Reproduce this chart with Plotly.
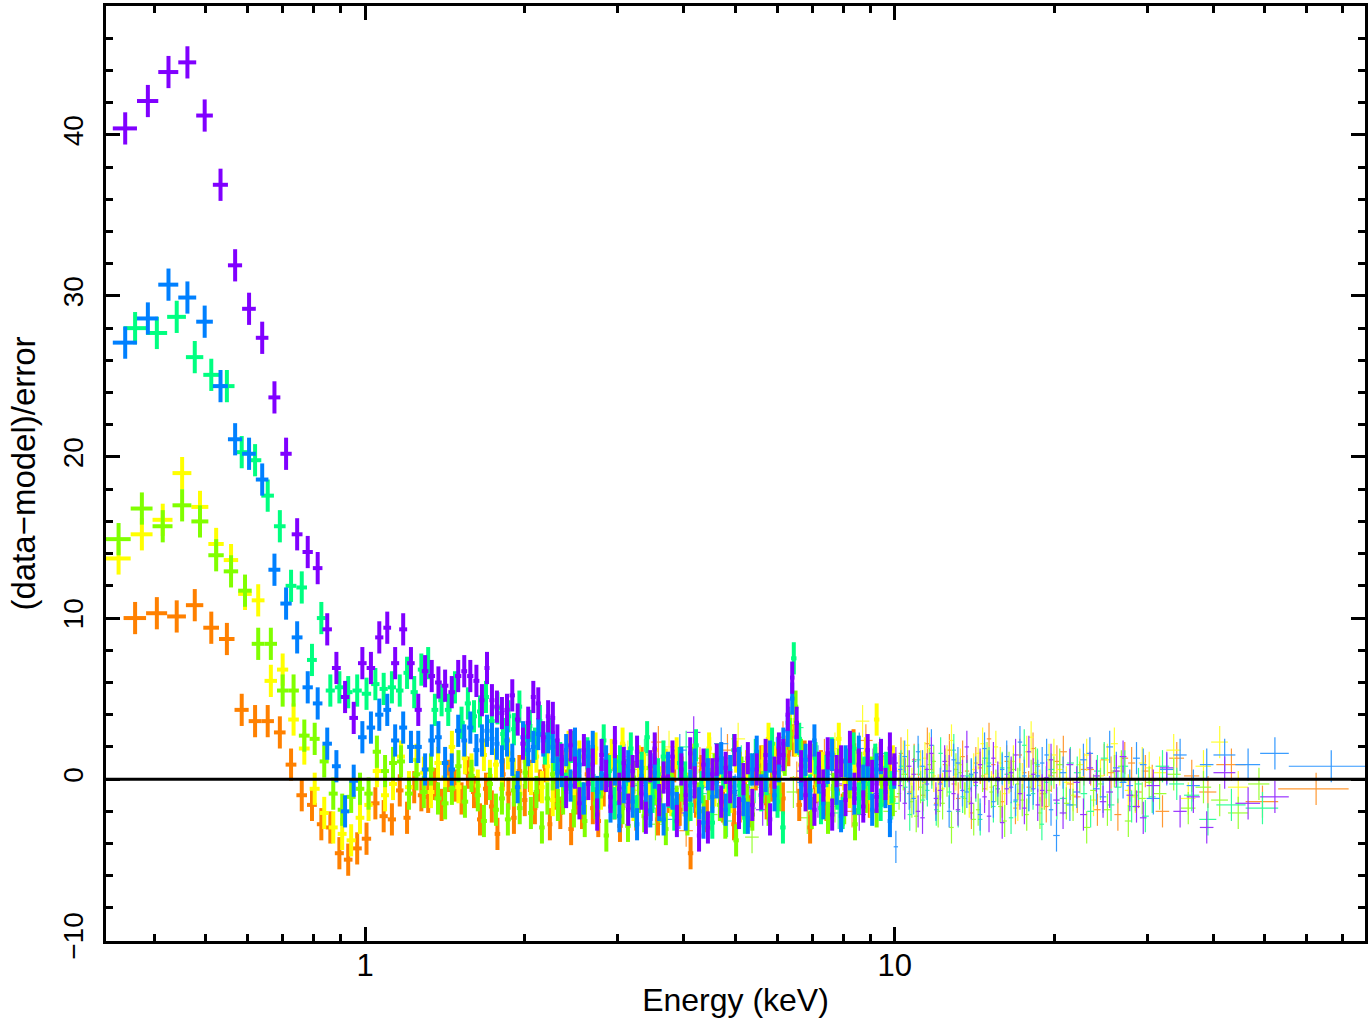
import plotly.graph_objects as go

# ---------------- data ----------------
# Thick (soft X-ray) spectra: bin edges in keV, residuals in sigma
edges_a = [0.334, 0.371, 0.407, 0.444, 0.480, 0.516, 0.551, 0.586, 0.622, 0.657,
           0.692, 0.727, 0.762, 0.797, 0.831, 0.866, 0.900, 0.934, 0.970, 1.007,
           1.045, 1.083, 1.120, 1.160, 1.201, 1.241, 1.280, 1.317, 1.356, 1.396,
           1.437, 1.479, 1.520, 1.559, 1.602, 1.644, 1.681, 1.718, 1.755, 1.794,
           1.833, 1.875, 1.919, 1.965, 2.010, 2.056, 2.101, 2.147, 2.194, 2.240,
           2.286, 2.330, 2.375, 2.420, 2.468, 2.515, 2.565, 2.615, 2.665, 2.718,
           2.770, 2.825, 2.880, 2.935, 2.992, 3.050, 3.110, 3.170, 3.232, 3.295,
           3.358, 3.424, 3.490, 3.558, 3.627, 3.698, 3.770, 3.843, 3.918, 3.994,
           4.072, 4.151, 4.232, 4.314, 4.398, 4.484, 4.571, 4.660, 4.751, 4.843,
           4.938, 5.034, 5.132, 5.232, 5.334, 5.438, 5.544, 5.652, 5.762, 5.874,
           5.989, 6.105, 6.224, 6.345, 6.469, 6.595, 6.724, 6.855, 6.988, 7.124,
           7.263, 7.405, 7.549, 7.696, 7.846, 7.999, 8.155, 8.314, 8.476, 8.641,
           8.810, 8.982, 9.157, 9.335, 9.517, 9.703, 9.892, 10.08]
purple = [40.4, 42.1, 43.9, 44.5, 41.2, 36.9, 31.9, 29.2, 27.4, 23.7,
          20.2, 15.2, 14.1, 13.1, 9.3, 6.9, 5.1, 3.8, 7.2, 6.9,
          8.8, 9.4, 7.2, 9.3, 7.2, 4.3, 6.7, 6.4, 6.0, 5.8,
          5.4, 6.4, 6.7, 6.4, 6.1, 4.9, 6.9, 4.9, 4.5, 4.1,
          4.3, 5.2, 3.7, 2.2, 3.5, 5.1, 4.7, 2.6, 3.9, 3.8,
          2.4,
          1.2, -0.8, 2.1, 0.4, -1.5, 1.8, -0.3, 0.9, -2.2, 1.5,
          0.2, -1.1, 2.3, -0.6, 1.0, -1.9, 0.5, 1.7, -0.9, -2.4,
          0.8, 1.9, -1.3, 0.1, -0.7, 1.4, -2.6, 0.6, -1.0, 1.6,
          -0.2, -3.5, 0.9, -3.0, 0.3, 1.2, -1.4, 0.7, -0.5, 1.8,
          -2.1, 0.0, 1.3, -1.6, 0.6, -0.9, 1.5, -2.5, 0.4, 1.9,
          1.5, 4.0, 6.3, 3.5, 0.8, -1.0, 1.4, -1.9, 0.7, -0.4,
          1.6, -2.2, 0.5, 1.1, -1.3, 2.0, -0.6, 0.9, -1.7, 1.8,
          0.2, -1.1, 1.5, -0.3, 1.9, 0.6]
blue = [27.1, 28.6, 30.7, 29.9, 28.4, 24.4, 21.1, 20.2, 18.6, 13.0,
        10.9, 8.8, 5.7, 4.7, 2.2, 0.8, -2.0, -0.1, 2.6, 3.2,
        4.0, 4.3, 2.4, 3.2, 2.0, 2.0, 0.6, 2.4, 2.6, 1.0,
        0.6, 3.0, 2.4, 3.2, 1.8, 2.4, 3.0, 2.5, 2.2, 1.1,
        2.4, 1.2, -0.5, 2.6, 1.8, 2.0, 2.8, 2.4, 2.6, 2.0,
        0.4,
        0.5, 1.8, -0.4, 2.2, 0.9, -1.2, 1.4, 2.0, -0.8, 0.3,
        1.1, -1.7, 0.6, -2.3, -0.5, 0.8, -1.4, -2.8, 0.2, -1.0,
        -2.0, 0.4, -1.6, -2.5, 0.7, -0.9, -1.8, 1.0, -2.2, -0.4,
        0.9, -1.5, -2.7, 0.3, -1.1, -0.2, 1.3, -1.9, 0.5, -0.8,
        1.0, -1.3, -2.4, 0.6, 1.7, -0.7, 0.2, 1.4, -1.0, 0.8,
        2.2, 3.0, 5.0, 2.6, -0.3, 1.2, -0.9, 2.4, 0.1, -1.5,
        0.7, 1.5, -0.6, -2.3, 1.1, 0.3, -1.2, 1.7, -0.1, 0.9,
        -1.9, 0.6, 1.3, -0.8, -2.6, 0.4]

edges_b = [0.350, 0.386, 0.423, 0.459, 0.495, 0.530, 0.567, 0.603, 0.637, 0.673,
           0.708, 0.742, 0.777, 0.811, 0.843, 0.877, 0.912, 0.947, 0.986, 1.027,
           1.065, 1.104, 1.144, 1.182, 1.219, 1.258, 1.297, 1.335, 1.375, 1.415,
           1.457, 1.500, 1.543, 1.585, 1.627, 1.670, 1.714, 1.757, 1.800, 1.843,
           1.888, 1.933, 1.980, 2.026, 2.070, 2.116, 2.162, 2.210, 2.258, 2.310,
           2.365, 2.421, 2.479, 2.538, 2.599, 2.661, 2.724, 2.790, 2.856, 2.924,
           2.994, 3.066, 3.139, 3.214, 3.291, 3.369, 3.450, 3.532, 3.617, 3.703,
           3.791, 3.882, 3.975, 4.070, 4.167, 4.267, 4.369, 4.473, 4.580, 4.689,
           4.801, 4.916, 5.034, 5.154, 5.277, 5.403, 5.533, 5.665, 5.800, 5.939,
           6.081, 6.226, 6.375, 6.527, 6.683, 6.843, 7.006, 7.174, 7.345, 7.521,
           7.700, 7.884, 8.073, 8.265, 8.463, 8.665, 8.872, 9.084, 9.301, 9.523,
           9.750, 9.983]
green = [28.0, 27.7, 28.7, 26.2, 25.1, 24.4, 20.3, 19.8, 17.6, 15.7,
         12.0, 11.9, 7.4, 10.0, 5.5, 5.7, 5.4, 5.5, 5.3, 5.9,
         5.6, 5.7, 5.5, 6.6, 5.4, 6.8, 7.2, 4.3, 4.9, 4.3,
         5.7, 3.5, 4.7, 3.9, 4.2, 5.1, 3.6, 4.4, 2.8, 3.9,
         3.1, 4.5, 2.4, 3.3, 2.2, 3.6, 1.9, 2.8, 1.5,
         1.3, -0.6, 2.0, 0.8, -1.2, 1.6, 0.2, -0.9, 2.4, 0.5,
         -1.5, 1.1, -0.3, 1.9, -2.0, 0.7, 2.6, -1.1, 0.3, 1.4,
         -0.8, -2.2, 1.0, 0.1, -1.6, 2.1, -0.5, 0.9, -2.7, 1.2,
         0.4, -1.3, 1.8, -0.4, -2.4, 0.6, 1.5, -1.0, 0.0, 2.2,
         -1.4, -3.0, 3.5, 7.5, 2.5, 0.8, -0.7, 1.3, -1.8, 0.5,
         1.6, -0.9, -2.1, 0.9, 1.9, -1.2, 0.4, -0.3, 1.2, -1.6,
         0.7, -0.5]
orange = [10.0, 10.3, 10.1, 10.8, 9.4, 8.7, 4.3, 3.6, 3.6, 2.9,
          0.9, -1.0, -1.6, -2.8, -3.0, -4.6, -5.0, -4.3, -3.7, -1.5,
          -2.3, -2.5, -0.7, -2.4, -0.5, -1.0, -1.1, -0.3, -1.6, 0.2,
          -0.4, -1.2, 0.4, -0.8, -2.5, -0.6, -1.7, -3.4, 0.3, -0.9,
          -2.4, 0.5, -1.3, 0.2, -1.8, -0.4, 0.8, -2.8, -0.9,
          -2.1, -0.4, -3.1, -1.2, -2.1, 0.3, -1.8, -2.6, -0.7, 0.6,
          -1.5, -2.9, 0.2, -0.9, -2.2, 1.0, -1.3, -0.2, -2.5, 0.4,
          -1.1, 0.8, -1.9, -0.6, -4.6, -1.4, 0.5, -2.3, -0.8, 1.2,
          -1.7, -0.1, -2.8, 0.7, -1.0, -2.0, 0.3, 1.1, -1.5, -0.4,
          0.9, -1.2, 1.8, 2.4, -1.6, 1.4, -3.0, -0.5, 0.8, -1.6,
          1.5, -0.7, -1.9, 0.6, 2.1, -0.9, 0.3, -1.4, 1.0, 1.3,
          -0.6, 0.8]

edges_c = [0.324, 0.361, 0.397, 0.433, 0.470, 0.506, 0.541, 0.576, 0.611, 0.646,
           0.682, 0.716, 0.750, 0.786, 0.821, 0.854, 0.888, 0.923, 0.960, 0.997,
           1.034, 1.072, 1.110, 1.149, 1.190, 1.231, 1.271, 1.312, 1.352, 1.395,
           1.438, 1.480, 1.522, 1.566, 1.611, 1.655, 1.699, 1.744, 1.790, 1.837,
           1.885, 1.935, 1.984, 2.032, 2.082, 2.132, 2.184, 2.236, 2.288, 2.338,
           2.394, 2.451, 2.509, 2.569, 2.630, 2.693, 2.757, 2.822, 2.889, 2.958,
           3.028, 3.100, 3.174, 3.250, 3.327, 3.406, 3.487, 3.570, 3.655, 3.742,
           3.831, 3.922, 4.015, 4.111, 4.208, 4.308, 4.411, 4.516, 4.623, 4.733,
           4.846, 4.961, 5.079, 5.200, 5.323, 5.450, 5.580, 5.712, 5.848, 5.987,
           6.129, 6.275, 6.424, 6.577, 6.733, 6.894, 7.058, 7.225, 7.397, 7.573,
           7.753, 7.938, 8.126, 8.320, 8.518, 8.720, 8.928, 9.140, 9.358, 9.580,
           9.808, 10.04]
lime = [14.9, 16.8, 15.7, 17.0, 16.0, 13.9, 12.9, 11.7, 8.4, 8.4,
        5.5, 5.5, 2.7, 2.5, 1.1, -0.9, -1.9, -1.1, -0.6, -0.9,
        1.7, 0.5, 1.0, 1.1, -0.9, 0.3, -0.8, 0.6, -1.2, -1.5,
        -0.6, 0.8, -1.4, 0.2, -1.0, -2.6, -0.3, -1.9, -1.2, -2.5,
        -0.7, -1.8, 0.4, -2.1, -0.8, -3.0, -1.2, 0.3, -1.6,
        -1.2, 0.3, -2.0, -0.7, -2.6, 0.9, -1.5, -0.2, -3.5, -1.0,
        0.5, -1.8, -2.9, 0.1, -1.1, -2.3, 0.7, -0.6, -1.7, -3.1,
        0.2, -1.4, -0.4, -2.5, 1.0, -1.2, -2.0, -0.3, 0.6, -1.6,
        -2.7, -0.8, -3.8, 0.4, -1.3, -2.2, 0.8, -0.5, -1.9, 0.3,
        -1.0, 1.2, 2.8, 4.5, 1.5, -0.9, -2.1, 0.5, -1.4, -2.4,
        -0.6, 0.9, -1.8, -0.2, -2.8, 0.7, -1.1, 0.4, -2.0, -0.7,
        0.6, -1.3]
yellow = [13.7, 15.2, 16.1, 19.0, 16.9, 14.6, 13.6, 11.5, 11.1, 6.1,
          6.8, 3.7, 1.9, -0.6, -2.1, -3.0, -3.4, -3.8, -2.4, -1.6,
          0.5, -1.0, -0.3, 1.4, -0.5, 1.2, 0.4, -0.8, 1.0, 0.1,
          2.0, -0.5, 1.3, 0.6, -0.4, 1.5, 0.2, 0.9, -0.6, 1.6,
          0.3, -0.9, 1.1, 0.0, 1.4, -0.5, 0.8, -1.3, 0.5,
          0.8, 2.0, -0.5, 1.4, -1.2, 0.6, 1.9, -0.9, 0.3, 1.5,
          -0.4, 2.2, 0.1, -1.6, 1.1, 0.7, -0.8, 1.8, -0.2, 0.9,
          -1.3, 1.6, 0.4, -0.6, 1.2, -1.9, 0.5, 1.9, -0.7, 1.0,
          0.2, -1.1, 1.4, -0.3, 0.8, -1.5, 0.6, 1.1, 2.5, 1.3,
          0.1, 1.7, 3.2, 2.4, 0.9, -1.0, 1.2, -0.4, 0.7, -1.2,
          1.5, 2.5, 0.3, -0.8, 1.0, -0.2, 1.6, -1.4, 3.7, 0.5,
          -0.6, 1.1]

# Thin (hard X-ray) spectra
edges_t1 = [3.00, 3.19, 3.38, 3.59, 3.81, 4.05, 4.30, 4.56, 4.85, 5.15,
            5.47, 5.80, 6.16, 6.54, 6.95, 7.38, 7.83, 8.32, 8.83, 9.38,
            9.96, 10.15, 10.35, 10.55, 10.76, 10.97, 11.18, 11.40, 11.62, 11.85,
            12.08, 12.31, 12.55, 12.80, 13.04, 13.30, 13.56, 13.82, 14.09, 14.36,
            14.64, 14.93, 15.22, 15.51, 15.81, 16.12, 16.44, 16.76, 17.08, 17.41,
            17.75, 18.10, 18.45, 18.81, 19.18, 19.55, 19.93, 20.5, 21.1, 21.75,
            22.4, 23.05, 23.7, 24.4, 25.1, 25.85, 26.6, 27.4, 28.2, 29.05,
            29.9, 31.7, 33.6, 35.6, 37.7, 40.0, 44.0, 49.0, 55.5, 78.0]
purple_hx = [-0.8, 1.1, -1.6, 0.4, -2.1, 2.9, -0.5, 1.3, -1.0, 0.2,
             -1.9, 0.8, 3.0, 0.5, -1.4, 1.2, -0.3, -2.2, 0.9, -0.6,
             1.0, -0.4, -1.5, 0.8, 0.3, -2.0, -2.4, 0.6, 1.6, -1.2,
             -0.7, 1.1, 0.5, -0.9, -1.9, 0.2, 2.0, -1.5, -0.2, 0.9,
             -1.1, -2.3, 1.3, 0.1, -2.7, -0.6, 0.4, 1.5, -0.9, -1.8,
             1.7, 0.3, -1.6, -0.7, 0.1, 1.2, -1.3, -2.1, 0.9, -0.2,
             -2.2, 0.7, 0.2, -1.4, -0.8, 0.5, 1.4, -1.0, -1.7, -2.4,
             -0.4, 0.7, -2.0, -1.1, -3.0, 0.4, -1.5, -1.1, None]
blue_hx = [1.2, -0.4, 0.6, -2.5, 1.8, -1.1, 0.3, 2.2, -0.7, -1.8,
           0.9, 1.6, 2.4, -0.2, 1.1, -1.3, 0.5, 1.9, -0.9, 0.2,
           -4.2, 0.6, 1.4, -0.9, -1.2, 1.7, 0.8, -0.3, 2.1, -1.6,
           -0.3, 0.5, -2.0, 1.2, 1.0, -0.7, -0.8, 0.3, 0.4, -2.2,
           1.9, 0.8, -1.4, -0.1, 0.6, 1.4, -0.5, -1.3, 2.3, 0.2,
           -1.0, -0.6, 0.2, 1.0, 1.5, -1.9, -3.5, 0.4, -1.6, -0.8,
           1.2, 1.6, -0.6, -1.1, 2.0, 0.7, -0.2, -0.4, 1.3, 0.9,
           -1.2, 0.6, 1.5, -0.4, 0.9, 1.5, 0.9, 1.6, 0.8]

edges_t2 = [3.08, 3.27, 3.47, 3.69, 3.92, 4.16, 4.42, 4.69, 4.98, 5.29,
            5.62, 5.97, 6.34, 6.73, 7.15, 7.59, 8.06, 8.56, 9.09, 9.65,
            10.18, 10.38, 10.58, 10.78, 10.99, 11.20, 11.42, 11.64, 11.87, 12.10,
            12.33, 12.57, 12.81, 13.06, 13.31, 13.57, 13.83, 14.10, 14.37, 14.65,
            14.93, 15.22, 15.51, 15.81, 16.12, 16.43, 16.75, 17.07, 17.40, 17.74,
            18.08, 18.43, 18.79, 19.15, 19.52, 20.0, 20.5, 21.15, 21.8, 22.45,
            23.1, 23.8, 24.5, 25.25, 26.0, 26.8, 27.6, 28.45, 29.3, 30.2,
            31.1, 33.0, 35.2, 37.6, 40.5, 46.0, 53.0, 72.0]
green_hx = [-0.3, 1.5, -1.8, 0.7, 2.0, -0.9, 0.4, -2.6, 1.1, -0.5,
            1.7, 1.4, 3.2, -1.2, 0.3, -2.1, 0.9, -0.4, 1.6, -1.5,
            0.8, -0.5, -2.2, 1.1, 1.2, -1.3, -0.7, 0.4, -1.9, 1.6,
            0.5, -0.8, 1.8, -2.0, -1.1, 0.2, 0.2, -0.4, -2.5, 1.3,
            1.0, -1.7, -0.6, 0.7, 0.3, -2.4, -1.4, 0.0, 2.1, -1.0,
            -0.9, 0.9, -2.8, -0.2, 0.6, -1.5, -1.2, 1.0, 0.4, -0.9,
            -2.0, 0.5, 1.3, -1.6, -0.5, 0.8, -1.7, -0.3, -2.3, -1.1,
            0.8, -0.3, -1.0, -2.5, -1.6, -1.8, None]
orange_hx = [0.9, -1.4, 2.3, -0.6, -3.2, 1.0, -0.2, 1.8, -1.7, 0.5,
             -0.9, 2.6, 0.1, -1.3, 1.5, -0.4, -2.0, 2.4, 0.6, -1.1,
             1.6, 0.3, -0.8, 1.2, 0.3, -1.0, 2.2, 0.6, -1.5, -0.2,
             0.9, 1.8, -0.3, -1.2, 1.4, 0.5, -2.1, 1.0, 0.7, -0.6,
             2.5, 0.9, -0.6, -1.4, 1.1, 0.2, -1.8, 1.5, 0.4, -0.5,
             1.9, 0.8, -0.9, -1.7, 0.2, 1.1, 1.7, -0.3, -1.1, 0.6,
             0.6, -1.9, 1.2, 0.4, -2.2, 1.3, 1.0, -0.8, 0.5, -0.1,
             -2.0, 1.3, 0.2, -0.8, 0.9, -1.4, -0.6]

edges_t3 = [3.04, 3.23, 3.43, 3.64, 3.86, 4.10, 4.36, 4.63, 4.91, 5.22,
            5.54, 5.88, 6.25, 6.63, 7.05, 7.48, 7.95, 8.44, 8.96, 9.52,
            10.10, 10.29, 10.48, 10.68, 10.88, 11.09, 11.30, 11.52, 11.74, 11.97,
            12.20, 12.44, 12.68, 12.93, 13.18, 13.44, 13.70, 13.97, 14.24, 14.52,
            14.80, 15.09, 15.38, 15.68, 15.98, 16.29, 16.60, 16.92, 17.25, 17.59,
            17.93, 18.28, 18.63, 18.99, 19.36, 19.78, 20.2, 20.8, 21.4, 22.05,
            22.7, 23.4, 24.1, 24.85, 25.6, 26.4, 27.2, 28.05, 28.9, 29.8,
            30.7, 32.6, 34.7, 37.0, 39.6, 42.6, 46.5, 51.0, 58.0]
lime_hx = [-1.5, 0.6, -2.8, 0.2, -1.0, 1.3, -2.2, -0.4, 0.9, -3.6,
           -1.2, 0.5, -0.8, -2.4, 0.7, -1.7, 0.1, -1.1, 1.2, -2.0,
           -0.9, 0.3, 0.8, -1.4, -2.3, -0.5, -0.2, 0.9, 1.1, -2.0,
           -1.5, -0.1, -3.0, 0.6, 0.4, -1.2, -0.6, -2.5, -1.9, 0.2,
           1.3, -0.8, -0.4, -1.7, -2.6, 0.7, 0.6, -0.3, -1.3, -2.2,
           0.2, 1.0, -2.1, -0.9, -0.7, 0.4, 0.9, -1.5, -1.6, 0.1,
           -3.0, -0.7, -0.3, -1.9, 0.5, 0.8, -2.6, -1.0, -1.2, -0.2,
           -0.9, 0.3, -1.8, -0.5, -1.3, -2.1, -0.3, None]
yellow_hx = [1.4, -0.7, 0.3, 2.0, -1.3, 0.8, 1.6, -0.5, 2.5, 0.1,
             -1.0, 1.2, 2.8, 0.4, -0.8, 1.9, 0.6, 3.6, -0.3, 1.0,
             0.5, 1.4, 2.1, -0.3, -1.1, 0.8, 1.3, 1.9, 0.2, -0.7,
             -0.6, 1.1, 2.4, 0.3, 0.9, -1.2, -1.4, 0.6, 1.6, 2.2,
             0.3, -0.5, 2.0, 1.0, -0.9, 0.1, 1.1, -1.6, 0.0, 1.7,
             2.6, 0.4, -0.4, -0.9, 1.2, 1.5, 0.6, -0.2, -1.0, 0.9,
             1.5, -1.3, 0.2, 1.2, 2.2, 0.5, -0.7, -1.1, 1.0, 0.7,
             0.4, 1.8, -1.2, 0.8, 2.3, -0.5, None, None]

x_major = [1, 10]
x_minor = [0.4, 0.5, 0.6, 0.7, 0.8, 0.9, 2, 3, 4, 5, 6, 7, 8, 9,
           20, 30, 40, 50, 60, 70]

COL = {"purple": "#8000FF", "blue": "#0080FF", "green": "#00FF80",
       "lime": "#80FF00", "yellow": "#FFFF00", "orange": "#FF8000"}
COL_THIN = {"purple": "#9933FF", "blue": "#3399FF", "green": "#33FF99",
            "lime": "#99FF33", "yellow": "#FFFF33", "orange": "#FF9933"}


def bins(edges):
    c = [(a + b) / 2 for a, b in zip(edges[:-1], edges[1:])]
    h = [(b - a) / 2 for a, b in zip(edges[:-1], edges[1:])]
    return c, h


def residual_trace(edges, vals, color, width):
    c, h = bins(edges)
    assert len(c) == len(vals), (len(c), len(vals))
    return go.Scatter(
        x=c, y=vals, mode="markers",
        marker=dict(size=1, color=color, opacity=0),
        error_x=dict(type="data", symmetric=False, array=h, arrayminus=h,
                     thickness=width, width=0, color=color),
        error_y=dict(type="constant", value=1, thickness=width, width=0,
                     color=color),
        showlegend=False, hoverinfo="skip",
    )


fig = go.Figure()

# thin hard X-ray spectra (drawn first, behind)
thin = [(edges_t2, orange_hx, "orange"), (edges_t3, yellow_hx, "yellow"),
        (edges_t3, lime_hx, "lime"), (edges_t2, green_hx, "green"),
        (edges_t1, blue_hx, "blue"), (edges_t1, purple_hx, "purple")]
for e, v, k in thin:
    fig.add_trace(residual_trace(e, v, COL_THIN[k], 1.2))

# thick soft X-ray spectra
thick = [(edges_b, orange, "orange"), (edges_c, yellow, "yellow"),
         (edges_c, lime, "lime"), (edges_b, green, "green"),
         (edges_a, blue, "blue"), (edges_a, purple, "purple")]
for e, v, k in thick:
    fig.add_trace(residual_trace(e, v, COL[k], 4))

FONT = "Liberation Sans, Arial, Helvetica, sans-serif"

fig.add_shape(type="line", xref="paper", x0=0, x1=1, yref="y", y0=0, y1=0,
              line=dict(color="black", width=3), layer="above")

fig.update_layout(
    width=1372, height=1025,
    margin=dict(l=106, r=7, t=6, b=84),
    paper_bgcolor="white", plot_bgcolor="white",
    font=dict(family=FONT, color="black"),
    xaxis=dict(
        type="log", range=[-0.4891, 1.8882], automargin=False,
        tickmode="array", tickvals=x_major, ticktext=["1", "10"],
        ticks="inside", ticklen=14, tickwidth=3, tickcolor="black",
        minor=dict(tickmode="array", tickvals=x_minor, ticks="inside",
                   ticklen=7, tickwidth=3, tickcolor="black", showgrid=False),
        showline=True, linewidth=3, linecolor="black", mirror="allticks",
        showgrid=False, zeroline=False,
        tickfont=dict(size=31, family=FONT, color="black"),
        ticklabelstandoff=-5,
        title=dict(text="Energy (keV)", font=dict(size=32, family=FONT),
                   standoff=7),
    ),
    yaxis=dict(
        range=[-10.05, 48.0], dtick=10, tick0=0, automargin=False,
        ticks="inside", ticklen=14, tickwidth=3, tickcolor="black",
        minor=dict(dtick=2, ticks="inside", ticklen=7, tickwidth=3,
                   tickcolor="black", showgrid=False),
        showline=True, linewidth=3, linecolor="black", mirror="allticks",
        showgrid=False, zeroline=False, tickangle=-90,
        tickfont=dict(size=28, family=FONT, color="black"),
        ticklabelstandoff=9,
        title=dict(text="(data\u2212model)/error", font=dict(size=33, family=FONT),
                   standoff=13),
    ),
)

fig.write_html("out.html")
